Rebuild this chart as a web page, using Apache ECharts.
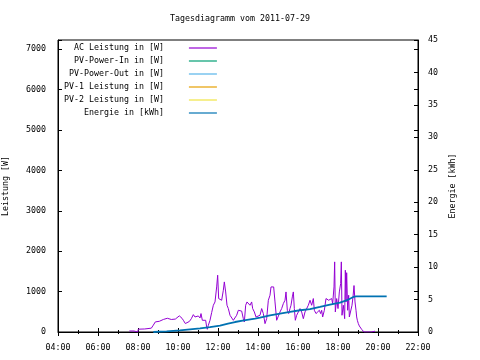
<!DOCTYPE html>
<html><head><meta charset="utf-8">
<script src="https://cdn.jsdelivr.net/npm/echarts@6/dist/echarts.min.js"></script>
<style>html,body{margin:0;padding:0;background:#fff}#c{width:480px;height:360px}</style>
</head><body><div id="c"></div>
<script>
const title = 'Tagesdiagramm vom 2011-07-29';
const seriesNames = ['AC Leistung in [W]', 'PV-Power-In in [W]', 'PV-Power-Out in [W]', 'PV-1 Leistung in [W]', 'PV-2 Leistung in [W]', 'Energie in [kWh]'];
const seriesColors = ['#9400D3', '#009E73', '#56B4E9', '#E69F00', '#F0E442', '#0072B2'];
const xTickLabels = ['04:00','06:00','08:00','10:00','12:00','14:00','16:00','18:00','20:00','22:00'];

const acTimes = ['07:34','07:48','07:51','07:59','08:01','08:20','08:40','08:46','08:52','08:58','09:04','09:10','09:16','09:22','09:28','09:34','09:40','09:46','09:52','09:58','10:04','10:08','10:12','10:16','10:22','10:28','10:34','10:40','10:46','10:51','10:56','11:01','11:06','11:09','11:13','11:18','11:23','11:26','11:28','11:31','11:36','11:41','11:46','11:51','11:56','11:59','12:02','12:07','12:11','12:16','12:19','12:23','12:27','12:31','12:36','12:41','12:46','12:51','12:56','13:01','13:06','13:11','13:16','13:19','13:23','13:27','13:31','13:36','13:41','13:44','13:49','13:54','13:59','14:06','14:11','14:16','14:21','14:26','14:31','14:36','14:39','14:43','14:47','14:51','14:56','15:01','15:06','15:11','15:16','15:21','15:24','15:28','15:32','15:36','15:39','15:43','15:46','15:49','15:52','15:56','16:01','16:06','16:11','16:16','16:21','16:26','16:31','16:36','16:41','16:46','16:49','16:54','16:58','17:04','17:08','17:11','17:14','17:19','17:24','17:28','17:32','17:36','17:41','17:44','17:48','17:50','17:52','17:56','18:00','18:04','18:08','18:10','18:12','18:16','18:20','18:22','18:24','18:26','18:29','18:32','18:34','18:38','18:42','18:45','18:48','18:51','18:54','18:56','18:58','19:01','19:04','19:08','19:11','19:14','19:18','19:40','19:42','19:51'];
const acValues = [25,25,0,0,70,75,95,170,250,270,265,285,310,300,340,335,310,300,320,330,400,380,340,290,210,250,260,330,430,372,330,397,347,456,290,248,290,124,67,166,290,481,662,744,1116,1406,828,786,786,1034,1240,992,662,580,414,372,290,330,414,538,580,518,330,248,662,744,786,662,744,580,497,372,330,414,580,456,207,330,786,910,1116,1158,1116,744,290,290,496,580,703,786,992,538,456,580,662,870,992,580,290,414,497,580,497,330,497,497,662,786,662,828,538,456,456,538,456,538,372,538,828,870,786,744,828,703,1116,1736,497,828,580,992,1200,1736,414,662,330,1530,744,1468,538,910,372,330,662,870,1150,744,538,372,290,207,149,110,66,25,0,0,20,20];

const energyTimes = ['08:46','09:06','09:26','09:46','10:06','10:36','11:06','11:36','12:06','12:30','12:51','13:18','13:51','14:06','14:36','15:06','15:36','16:06','16:36','17:06','17:36','18:06','18:27','18:46','18:54','20:26'];
const energyValues = [0,0.05,0.1,0.18,0.26,0.42,0.55,0.75,0.98,1.3,1.54,1.8,2.06,2.2,2.55,2.84,3.09,3.35,3.52,3.86,4.23,4.53,4.9,5.4,5.48,5.48];

const pvInValues = [], pvOutValues = [], pv1Values = [], pv2Values = [];

function toH(t){const p=t.split(':');return +p[0]+(+p[1])/60;}
function pairs(ts,vs){return ts.map((t,i)=>[toH(t),vs[i]]);}

const FONT = 'DejaVu Sans Mono';
const FS = 8.3;
const chart = echarts.init(document.getElementById('c'), null, {renderer:'canvas'});
const seriesData = [pairs(acTimes,acValues), pvInValues, pvOutValues, pv1Values, pv2Values, pairs(energyTimes,energyValues)];
chart.setOption({
  animation:false,
  backgroundColor:'#fff',
  title:{text:title,left:'center',top:10,textStyle:{fontFamily:FONT,fontSize:FS,fontWeight:'normal',color:'#000'}},
  legend:{orient:'vertical',left:64,top:44,itemGap:5,itemWidth:28,itemHeight:1.2,icon:'rect',align:'right',
    data:seriesNames,
    textStyle:{fontFamily:FONT,fontSize:FS,color:'#000',width:106,align:'right',padding:[0,20,0,0]},
    padding:0,selectedMode:false},
  grid:{left:58,right:62,top:40,bottom:28,show:true,borderColor:'#000',borderWidth:1,containLabel:false,outerBoundsMode:'none'},
  xAxis:[{type:'value',min:4,max:22,interval:2,position:'bottom',
    axisLine:{show:true,lineStyle:{color:'#000',width:1}},
    axisTick:{show:true,inside:true,length:4,lineStyle:{color:'#000'}},
    minorTick:{show:true,splitNumber:2,length:2,lineStyle:{color:'#000'}},
    splitLine:{show:false},
    axisLabel:{margin:12,fontFamily:FONT,fontSize:FS,color:'#000',formatter:v=>xTickLabels[Math.round((v-4)/2)]||''}},
   {type:'value',min:4,max:22,interval:2,position:'top',
    axisLine:{show:false},axisTick:{show:true,inside:true,length:4,lineStyle:{color:'#000'}},
    minorTick:{show:true,splitNumber:2,length:2,lineStyle:{color:'#000'}},
    splitLine:{show:false},axisLabel:{show:false}}],
  yAxis:[{type:'value',min:0,max:7230,interval:1000,position:'left',
    name:'Leistung [W]',nameLocation:'middle',nameGap:48,nameRotate:90,
    nameTextStyle:{fontFamily:FONT,fontSize:FS,color:'#000'},
    axisLine:{show:true,lineStyle:{color:'#000'}},
    axisTick:{show:true,inside:true,length:4,lineStyle:{color:'#000'}},
    splitLine:{show:false},
    axisLabel:{margin:12,fontFamily:FONT,fontSize:FS,color:'#000',formatter:v=>(v%1000===0?String(v):'')}},
   {type:'value',min:0,max:45,interval:5,position:'right',
    name:'Energie [kWh]',nameLocation:'middle',nameGap:30,nameRotate:90,
    nameTextStyle:{fontFamily:FONT,fontSize:FS,color:'#000'},
    axisLine:{show:true,lineStyle:{color:'#000'}},
    axisTick:{show:true,inside:true,length:4,lineStyle:{color:'#000'}},
    splitLine:{show:false},
    axisLabel:{margin:10,fontFamily:FONT,fontSize:FS,color:'#000'}},
   {type:'value',min:0,max:7230,interval:1000,position:'right',
    axisLine:{show:false},axisTick:{show:true,inside:true,length:4,lineStyle:{color:'#000'}},
    splitLine:{show:false},axisLabel:{show:false}}],
  series:seriesNames.map((n,i)=>({
    name:n,type:'line',data:seriesData[i],yAxisIndex:i===5?1:0,xAxisIndex:0,
    showSymbol:false,symbol:'none',color:seriesColors[i],
    lineStyle:{color:seriesColors[i],width:i===5?1.8:1},z:i===5?3:2
  }))
});
</script></body></html>
